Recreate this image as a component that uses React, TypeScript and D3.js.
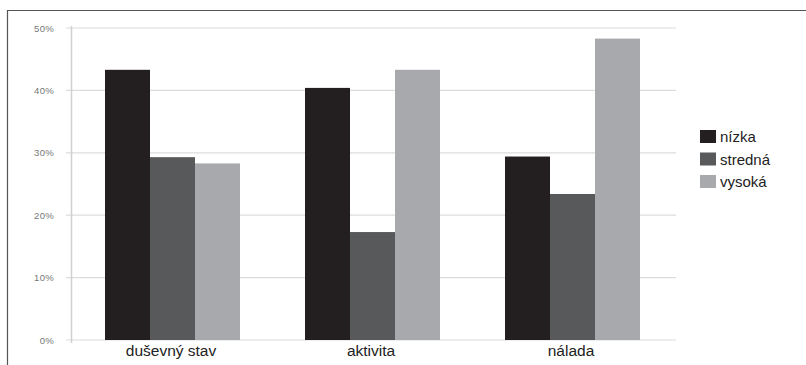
import React from "react";
import * as d3 from "d3";

const categories = ["duševný stav", "aktivita", "nálada"];
const seriesNames = ["nízka", "stredná", "vysoká"];
const nizka = [43.3, 40.4, 29.4];
const stredna = [29.3, 17.3, 23.4];
const vysoka = [28.3, 43.3, 48.3];
const yTicks = [0, 10, 20, 30, 40, 50];
const colors = ["#231f20", "#58595b", "#a7a9ac"];

const seriesValues = [nizka, stredna, vysoka];

export default function App() {
  const W = 806, H = 365;
  const x0 = d3.scaleBand<string>().domain(categories).range([72.5, 672.5]).paddingInner(0.325).paddingOuter(0.1625);
  const x1 = d3.scaleBand<string>().domain(seriesNames).range([0, x0.bandwidth()]);
  const y = d3.scaleLinear().domain([0, 50]).range([340, 28]);

  return (
    <svg width={W} height={H} style={{ position: "absolute", left: 0, top: 0, background: "#fff" }} fontFamily="Arial, 'Liberation Sans', sans-serif">
      <rect x={0} y={0} width={W} height={H} fill="#fff" />
      {/* frame */}
      <line x1={7} x2={806} y1={10.5} y2={10.5} stroke="#555" strokeWidth={1.2} />
      <line x1={7.5} x2={7.5} y1={10} y2={365} stroke="#555" strokeWidth={1.2} />
      {/* grid */}
      {yTicks.map((t) => (
        <g key={t}>
          <line x1={66} x2={676} y1={y(t)} y2={y(t)} stroke="#dcdcdc" strokeWidth={1.2} />
          <text x={54} y={y(t) + 3.5} fontSize={9.5} fill="#777" textAnchor="end" letterSpacing={0.3}>{t}%</text>
        </g>
      ))}
      <line x1={71.5} x2={71.5} y1={y(50) - 2} y2={y(0) + 3} stroke="#d0d0d0" strokeWidth={1.5} />
      {/* bars */}
      {categories.map((c, ci) => (
        <g key={c} transform={`translate(${x0(c)},0)`}>
          {seriesNames.map((s, si) => (
            <rect key={s} x={x1(s)} y={y(seriesValues[si][ci])} width={x1.bandwidth()} height={y(0) - y(seriesValues[si][ci])} fill={colors[si]} />
          ))}
        </g>
      ))}
      {/* category labels */}
      {categories.map((c) => (
        <text key={c} x={(x0(c) as number) + x0.bandwidth() / 2 - 1.5} y={356} fontSize={15.5} fill="#222" textAnchor="middle">{c}</text>
      ))}
      {/* legend */}
      {seriesNames.map((s, i) => (
        <g key={s} transform={`translate(700,${130 + i * 22.5})`}>
          <rect x={0} y={0} width={16} height={13} fill={colors[i]} />
          <text x={20} y={12} fontSize={15} fill="#222">{s}</text>
        </g>
      ))}
    </svg>
  );
}
